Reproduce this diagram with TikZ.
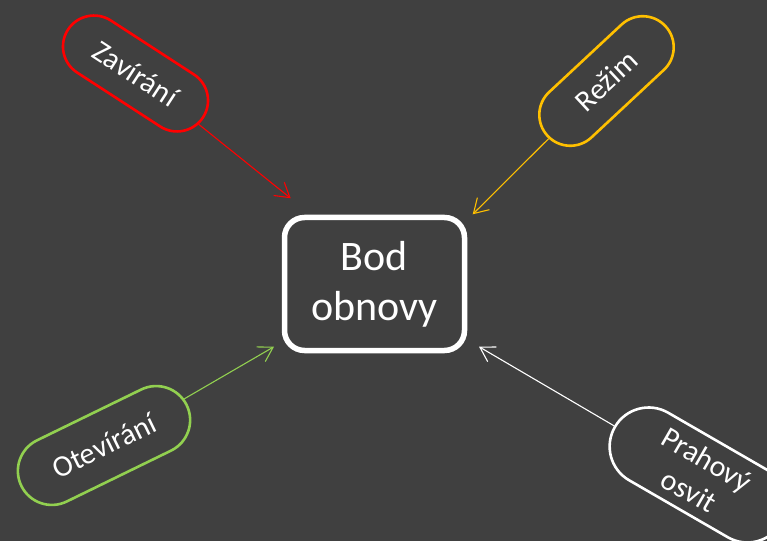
\documentclass[tikz,border=0pt]{standalone}
\usepackage{fontspec}
\setmainfont{Carlito}
\usepackage{xcolor}
\usetikzlibrary{arrows.meta,shapes.misc}
\definecolor{bg}{HTML}{404040}
\definecolor{zavred}{HTML}{FF0000}
\definecolor{rezgold}{HTML}{FFC000}
\definecolor{otegreen}{HTML}{92D050}

\begin{document}
\begin{tikzpicture}[x=1pt,y=1pt,
        pill/.style={rounded rectangle,draw,line width=2.6pt,text=white,inner sep=2pt,
            font=\fontsize{30}{36}\selectfont,align=center},
        link/.style={line width=1.1pt,-{Straight Barb[length=14pt,width=17pt]}}]
    \fill[bg] (0,0) rectangle (767,541);
    \useasboundingbox (0,0) rectangle (767,541);
        \node (bod) [draw=white,line width=5.5pt,rounded corners=20pt,text=white,
            minimum width=180pt,minimum height=133pt,align=center,
            font=\fontsize{42}{50}\selectfont] at (374.5,257) {Bod\\obnovy};
        \node (zav) [pill,draw=zavred,rotate=-33,minimum width=165pt,minimum height=62pt]
            at (135.5,467.5) {Zavírání};
        \node (rez) [pill,draw=rezgold,rotate=43,minimum width=165pt,minimum height=62pt]
            at (606.5,460) {Režim};
        \node (ote) [pill,draw=otegreen,rotate=26,minimum width=188pt,minimum height=68pt]
            at (104,95.5) {Otevírání};
        \node (pra) [pill,draw=white,rotate=-30,minimum width=196pt,minimum height=78pt]
            at (698,66) {Prahový\\osvit};
        \coordinate (zavtip) at (290.7,342.7);
        \coordinate (reztip) at (472.7,326.7);
        \coordinate (otetip) at (274,194.3);
        \coordinate (pratip) at (479,194.3);
        \draw[link,zavred] (zav) -- (zavtip);
        \draw[link,rezgold] (rez) -- (reztip);
        \draw[link,otegreen] (ote) -- (otetip);
        \draw[link,white] (pra) -- (pratip);
    \end{tikzpicture}
\end{document}
